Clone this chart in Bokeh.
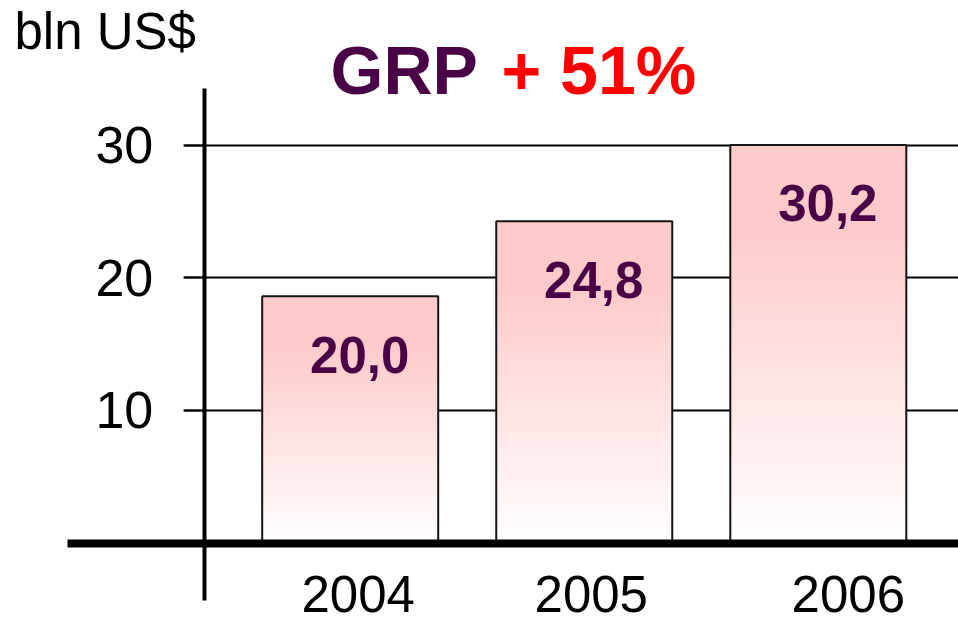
from bokeh.plotting import figure
from bokeh.models import ColumnDataSource, FixedTicker, Label, Range1d
from bokeh.core.properties import value
from bokeh.embed import file_html
from bokeh.resources import INLINE

# ---------------- data ----------------
years = ["2004", "2005", "2006"]
bar_heights = [18.6, 24.25, 30.0]          # bar heights as drawn in the picture
value_labels = ["20,0", "24,8", "30,2"]    # printed values
y_ticks = [10, 20, 30]
unit_label = "bln US$"
title_main = "GRP"
title_growth = "+ 51%"

# ---------------- styles ----------------
FONT = "Liberation Sans"
PURPLE = "#4a0046"
RED = "#ff0000"
PINK_TOP = (255, 202, 202)
BAR_WIDTH = 0.752
YEAR_DX = [8, 7, 30]          # horizontal shift of year labels (px)

xs = list(range(len(years)))

p = figure(width=958, height=623,
           x_range=Range1d(-1.4941, 2.599), y_range=Range1d(-6.059, 40.89),
           output_backend="svg", toolbar_location=None,
           min_border=0, outline_line_color=None,
           background_fill_color="white", border_fill_color="white")

# gradient bars built from thin strips
N = 60
l, r, b, t, c = [], [], [], [], []
for xi, h in zip(xs, bar_heights):
    for k in range(N):
        f = min(1.0, ((k + 0.5) / N) / 0.8)
        g = int(round(255 - (255 - PINK_TOP[1]) * f))
        col = "#%02x%02x%02x" % (255, g, g)
        l.append(xi - BAR_WIDTH / 2)
        r.append(xi + BAR_WIDTH / 2)
        b.append(h * k / N)
        t.append(h * (k + 1) / N)
        c.append(col)
p.quad(left=l, right=r, bottom=b, top=t, fill_color=c, line_color=c, line_width=1)

# bar outlines
p.vbar(x=xs, width=BAR_WIDTH, top=bar_heights, bottom=0,
       fill_color=None, line_color="#151515", line_width=2)

# value labels
vsrc = ColumnDataSource(dict(x=xs, y=bar_heights, text=value_labels))
p.text(x="x", y="y", text="text", source=vsrc, x_offset=9.5, y_offset=58.3,
       text_align="center", text_baseline="middle",
       text_font=value(FONT), text_font_size="51px", text_font_style="bold",
       text_color=PURPLE)

# year labels
ysrc = ColumnDataSource(dict(x=xs, y=[0] * len(xs), text=years, dx=YEAR_DX))
p.text(x="x", y="y", text="text", source=ysrc, x_offset="dx", y_offset=51,
       text_align="center", text_baseline="middle",
       text_font=value(FONT), text_font_size="51px", text_color="black")

# x axis = thick baseline
xa = p.xaxis[0]
xa.fixed_location = 0
xa.bounds = (-1.209, 2.599)
xa.ticker = FixedTicker(ticks=[])
xa.axis_line_width = 8
xa.axis_line_color = "black"
xa.major_tick_line_color = None
xa.minor_tick_line_color = None
xa.major_label_text_color = None

# y axis
ya = p.yaxis[0]
ya.fixed_location = -0.6234
ya.bounds = (-4.30, 34.29)
ya.ticker = FixedTicker(ticks=y_ticks)
ya.axis_line_width = 4
ya.axis_line_color = "black"
ya.major_tick_out = 20
ya.major_tick_in = 0
ya.major_tick_line_width = 2
ya.major_tick_line_color = "black"
ya.minor_tick_line_color = None
ya.major_label_text_font = FONT
ya.major_label_text_font_size = "52px"
ya.major_label_text_color = "black"
ya.major_label_standoff = 31

# grid
p.xgrid.visible = False
p.ygrid.ticker = FixedTicker(ticks=y_ticks)
p.ygrid.grid_line_color = "black"
p.ygrid.grid_line_width = 2
p.ygrid.grid_line_alpha = 1.0
p.ygrid.cross_bounds = (-0.711, 2.599)

# texts
p.add_layout(Label(x=14, y=592, x_units="screen", y_units="screen", text=unit_label,
                   text_font=FONT, text_font_size="51px", text_color="black",
                   text_baseline="alphabetic"))
p.add_layout(Label(x=330, y=554, x_units="screen", y_units="screen", text=title_main,
                   text_font=FONT, text_font_size="68px", text_font_style="bold",
                   text_color=PURPLE, text_baseline="alphabetic"))
p.add_layout(Label(x=501, y=554, x_units="screen", y_units="screen", text=title_growth,
                   text_font=FONT, text_font_size="68px", text_font_style="bold",
                   text_color=RED, text_baseline="alphabetic"))

open("out.html", "w").write(file_html(p, INLINE))
